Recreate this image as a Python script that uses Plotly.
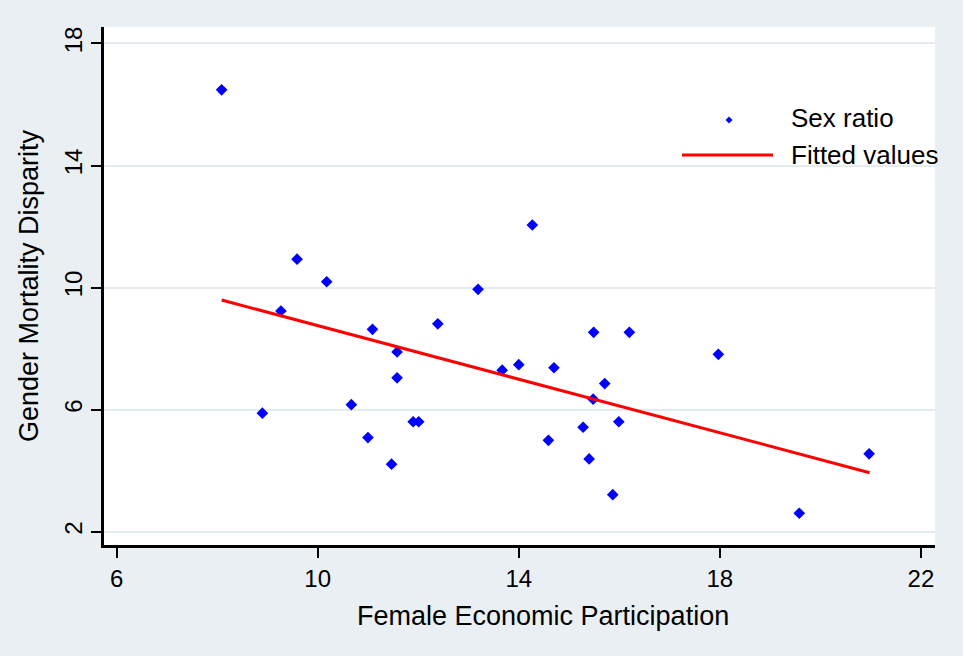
import plotly.graph_objects as go

# Data
fep = [8.09, 9.59, 10.18, 9.27, 11.09, 12.39, 11.58, 11.58, 8.90, 10.67,
       11.00, 11.90, 12.01, 11.47, 14.27, 13.19, 15.49, 16.20, 13.67, 14.00,
       14.70, 15.71, 15.48, 15.99, 15.28, 14.59, 15.40, 15.87, 17.97, 20.97,
       19.58]
sex_ratio = [16.48, 10.93, 10.19, 9.23, 8.63, 8.81, 7.89, 7.04, 5.88, 6.16,
             5.08, 5.60, 5.60, 4.21, 12.05, 9.94, 8.53, 8.53, 7.29, 7.47,
             7.37, 6.85, 6.34, 5.60, 5.42, 4.99, 4.38, 3.21, 7.81, 4.55,
             2.60]
fit_x = [8.09, 20.98]
fit_y = [9.59, 3.93]

x_ticks = [6, 10, 14, 18, 22]
y_ticks = [2, 6, 10, 14, 18]

FONT = "Liberation Sans, Arial, sans-serif"
W, H = 963, 656
ML, MR, MT, MB = 104, 28, 27, 111
PW, PH = W - ML - MR, H - MT - MB


def px_to_paper(px, py):
    return (px - ML) / PW, (H - MB - py) / PH


fig = go.Figure()
fig.add_trace(go.Scatter(
    x=fep, y=sex_ratio, mode="markers", name="Sex ratio",
    marker=dict(symbol="diamond", size=9, color="#0000ff", line=dict(width=0)),
    showlegend=False))
fig.add_trace(go.Scatter(
    x=fit_x, y=fit_y, mode="lines", name="Fitted values",
    line=dict(color="#ff0000", width=3), showlegend=False))

# Manual legend (Stata style)
lx0, ly = px_to_paper(682, 155)
lx1, _ = px_to_paper(773, 155)
fig.add_shape(type="line", xref="paper", yref="paper", x0=lx0, x1=lx1, y0=ly, y1=ly,
              line=dict(color="#ff0000", width=3))
mx, my = px_to_paper(729, 120)
dx, dy = 3.5 / PW, 3.5 / PH
fig.add_shape(type="path", xref="paper", yref="paper",
              path=f"M {mx-dx},{my} L {mx},{my+dy} L {mx+dx},{my} L {mx},{my-dy} Z",
              fillcolor="#0000ff", line=dict(width=0))
tx, ty1 = px_to_paper(789, 118)
_, ty2 = px_to_paper(789, 155)
for txt, ty in [("Sex ratio", ty1), ("Fitted values", ty2)]:
    fig.add_annotation(text=txt, x=tx, y=ty, xref="paper", yref="paper",
                       xanchor="left", yanchor="middle", showarrow=False,
                       font=dict(family=FONT, size=26, color="#000000"))

# X axis title (offset to the right as in the reference)
xtx, xty = px_to_paper(542.5, 615.6)
fig.add_annotation(text="Female Economic Participation", x=xtx, y=xty,
                   xref="paper", yref="paper", xanchor="center", yanchor="middle",
                   showarrow=False, font=dict(family=FONT, size=27, color="#000000"))

fig.update_layout(
    width=W, height=H,
    margin=dict(l=ML, r=MR, t=MT, b=MB),
    paper_bgcolor="#e9eff2", plot_bgcolor="#ffffff",
    font=dict(family=FONT, color="#000000"),
    showlegend=False,
)
fig.update_xaxes(
    range=[5.75, 22.28], tickvals=x_ticks, ticktext=[str(v) for v in x_ticks],
    showgrid=False, zeroline=False, showline=True, linecolor="#000000", linewidth=2.5,
    ticks="outside", ticklen=10, tickwidth=2, tickcolor="#000000",
    tickfont=dict(family=FONT, size=24, color="#000000"),
)
fig.update_yaxes(
    range=[1.56, 18.54], tickvals=y_ticks, ticktext=[str(v) for v in y_ticks],
    tickangle=-90,
    showgrid=True, gridcolor="#e4ecef", gridwidth=1.5,
    zeroline=False, showline=True, linecolor="#000000", linewidth=2.5,
    ticks="outside", ticklen=10, tickwidth=2, tickcolor="#000000",
    tickfont=dict(family=FONT, size=24, color="#000000"),
    title=dict(text="Gender Mortality Disparity", standoff=14,
               font=dict(family=FONT, size=27, color="#000000")),
)

fig.write_html("out.html")
